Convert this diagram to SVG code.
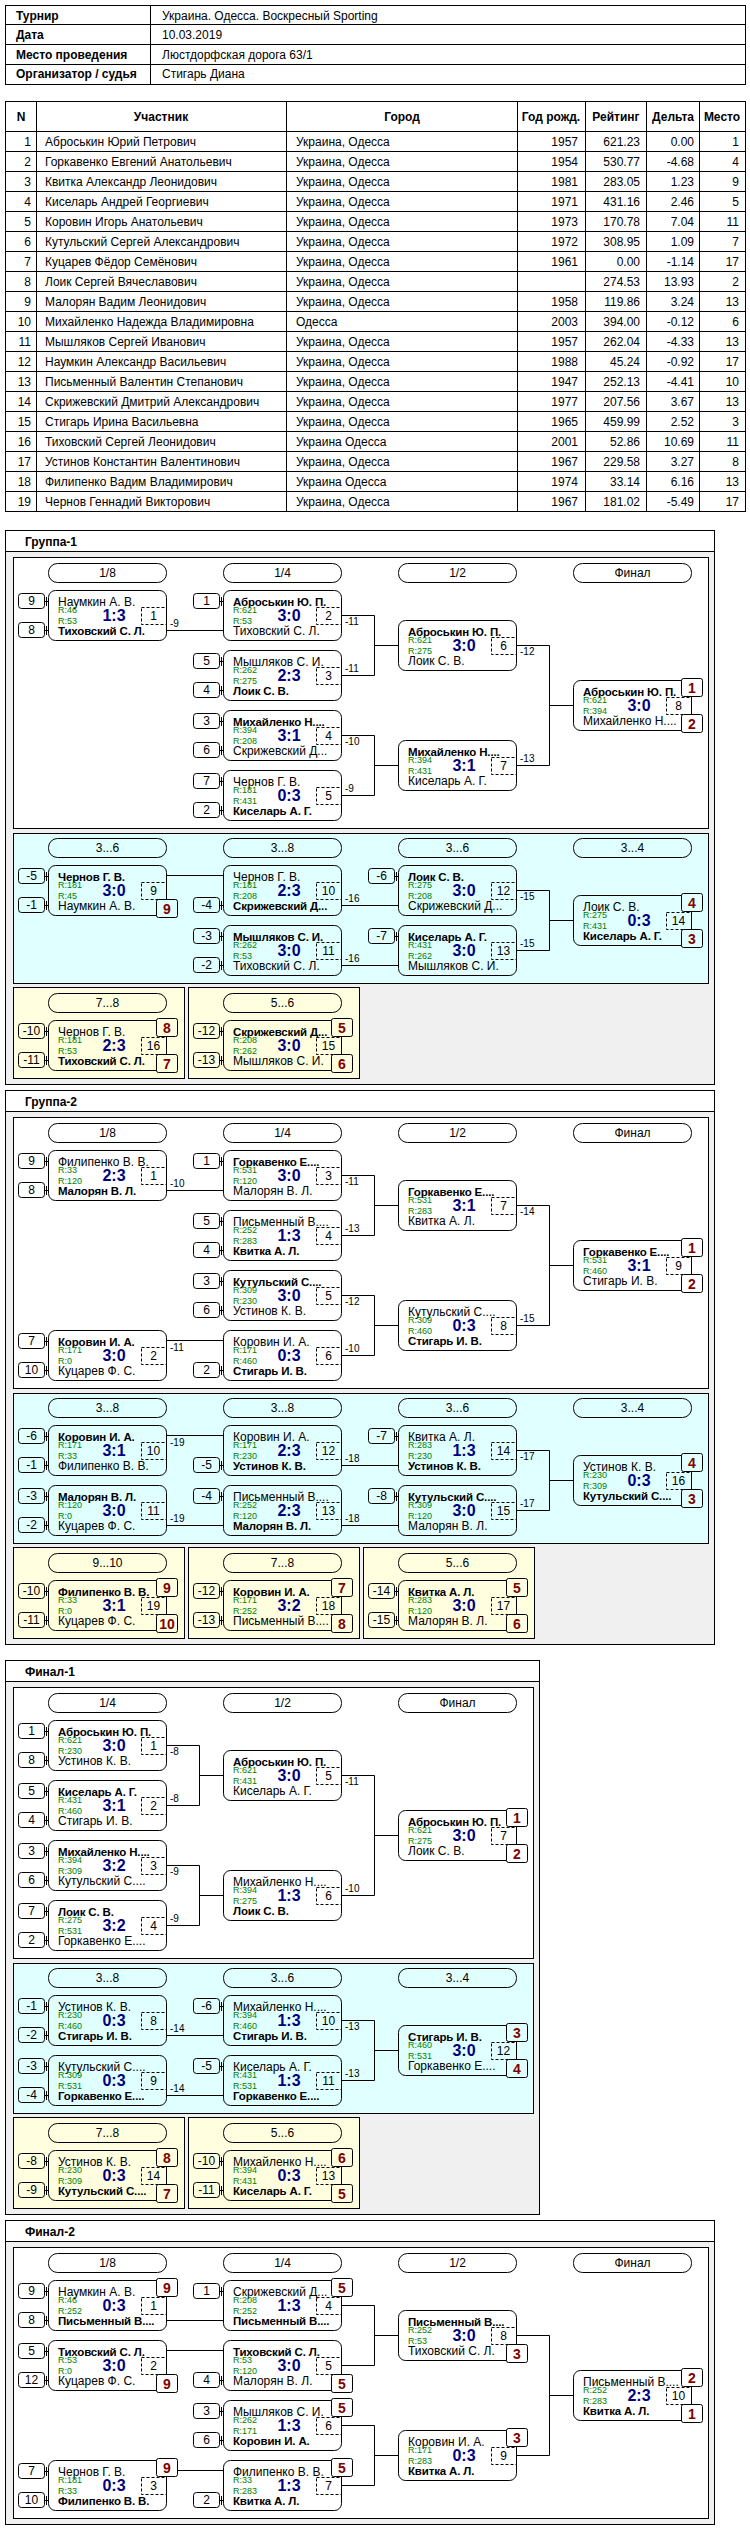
<svg xmlns="http://www.w3.org/2000/svg" width="750" height="2530" viewBox="0 0 750 2530">
<style>
text{font-family:"Liberation Sans",Arial,sans-serif;fill:#000}
.t{font-size:12px}
.tb{font-size:12px;font-weight:bold}
.tc{text-anchor:middle}
.te{text-anchor:end}
.ln{fill:none;stroke:#000;stroke-width:1}
.n{font-size:12px}
.b{font-size:11.5px;font-weight:bold;letter-spacing:-0.15px}
.r{font-size:9px;fill:#008000}
.s{font-size:16px;font-weight:bold;fill:#000080;text-anchor:middle}
.d{font-size:12px;text-anchor:middle}
.l{font-size:10px}
.bd{font-size:14px;font-weight:bold;fill:#800000;text-anchor:middle}
.bw{fill:#fff;stroke:#000}
.bc{fill:#e0ffff;stroke:#000}
.by{fill:#ffffe0;stroke:#000}
.gr{fill:#f0f0f0;stroke:#000}
.wh{fill:#fff;stroke:#000}
.cy{fill:#e0ffff;stroke:#000}
.ye{fill:#ffffe0;stroke:#000}
.ti{font-size:12px;font-weight:bold}
</style>
<defs>
<g id="mb"><rect x="0.5" y="0.5" width="118" height="50" rx="7" fill="none" stroke="#000"/><rect x="93.5" y="17.5" width="25" height="17" fill="none" stroke="#000" stroke-dasharray="3 2"/></g>
<g id="sd"><rect x="0.5" y="0.5" width="26" height="15" rx="3" fill="none" stroke="#000"/><path d="M27,8.5H30M28.5,4V13" fill="none" stroke="#000"/></g>
<rect id="pl" x="0.5" y="0.5" width="118" height="19" rx="9" fill="none" stroke="#000"/>
</defs>

<g id="info-table">
<rect class="wh" x="5.5" y="5.5" width="740" height="79"/>
<path class="ln" d="M5.5,24.5H745.5M5.5,44.5H745.5M5.5,64.5H745.5M150.5,5.5V84.5"/>
<text class="tb"><tspan x="16" y="19.5">Турнир</tspan><tspan x="16" y="39">Дата</tspan><tspan x="16" y="58.5">Место проведения</tspan><tspan x="16" y="78">Организатор / судья</tspan></text>
<text class="t"><tspan x="162" y="19.5">Украина. Одесса. Воскресный Sporting</tspan><tspan x="162" y="39">10.03.2019</tspan><tspan x="162" y="58.5">Люстдорфская дорога 63/1</tspan><tspan x="162" y="78">Стигарь Диана</tspan></text>
</g>

<g id="participants-table">
<rect class="wh" x="5.5" y="101.5" width="740" height="410"/>
<path class="ln" d="M5.5,131.5H745.5M5.5,151.5H745.5M5.5,171.5H745.5M5.5,191.5H745.5M5.5,211.5H745.5M5.5,231.5H745.5M5.5,251.5H745.5M5.5,271.5H745.5M5.5,291.5H745.5M5.5,311.5H745.5M5.5,331.5H745.5M5.5,351.5H745.5M5.5,371.5H745.5M5.5,391.5H745.5M5.5,411.5H745.5M5.5,431.5H745.5M5.5,451.5H745.5M5.5,471.5H745.5M5.5,491.5H745.5M36.5,101.5V511.5M286.5,101.5V511.5M517.5,101.5V511.5M585.5,101.5V511.5M646.5,101.5V511.5M699.5,101.5V511.5"/>
<text class="tb tc"><tspan x="21" y="120.5">N</tspan><tspan x="161" y="120.5">Участник</tspan><tspan x="402" y="120.5">Город</tspan><tspan x="551" y="120.5">Год рожд.</tspan><tspan x="616" y="120.5">Рейтинг</tspan><tspan x="673" y="120.5">Дельта</tspan><tspan x="722" y="120.5">Место</tspan></text>
<text class="t te"><tspan x="31" y="145.5">1</tspan><tspan x="31" y="165.5">2</tspan><tspan x="31" y="185.5">3</tspan><tspan x="31" y="205.5">4</tspan><tspan x="31" y="225.5">5</tspan><tspan x="31" y="245.5">6</tspan><tspan x="31" y="265.5">7</tspan><tspan x="31" y="285.5">8</tspan><tspan x="31" y="305.5">9</tspan><tspan x="31" y="325.5">10</tspan><tspan x="31" y="345.5">11</tspan><tspan x="31" y="365.5">12</tspan><tspan x="31" y="385.5">13</tspan><tspan x="31" y="405.5">14</tspan><tspan x="31" y="425.5">15</tspan><tspan x="31" y="445.5">16</tspan><tspan x="31" y="465.5">17</tspan><tspan x="31" y="485.5">18</tspan><tspan x="31" y="505.5">19</tspan></text>
<text class="t"><tspan x="45" y="145.5">Аброськин Юрий Петрович</tspan><tspan x="45" y="165.5">Горкавенко Евгений Анатольевич</tspan><tspan x="45" y="185.5">Квитка Александр Леонидович</tspan><tspan x="45" y="205.5">Киселарь Андрей Георгиевич</tspan><tspan x="45" y="225.5">Коровин Игорь Анатольевич</tspan><tspan x="45" y="245.5">Кутульский Сергей Александрович</tspan><tspan x="45" y="265.5">Куцарев Фёдор Семёнович</tspan><tspan x="45" y="285.5">Лоик Сергей Вячеславович</tspan><tspan x="45" y="305.5">Малорян Вадим Леонидович</tspan><tspan x="45" y="325.5">Михайленко Надежда Владимировна</tspan><tspan x="45" y="345.5">Мышляков Сергей Иванович</tspan><tspan x="45" y="365.5">Наумкин Александр Васильевич</tspan><tspan x="45" y="385.5">Письменный Валентин Степанович</tspan><tspan x="45" y="405.5">Скрижевский Дмитрий Александрович</tspan><tspan x="45" y="425.5">Стигарь Ирина Васильевна</tspan><tspan x="45" y="445.5">Тиховский Сергей Леонидович</tspan><tspan x="45" y="465.5">Устинов Константин Валентинович</tspan><tspan x="45" y="485.5">Филипенко Вадим Владимирович</tspan><tspan x="45" y="505.5">Чернов Геннадий Викторович</tspan></text>
<text class="t"><tspan x="296" y="145.5">Украина, Одесса</tspan><tspan x="296" y="165.5">Украина, Одесса</tspan><tspan x="296" y="185.5">Украина, Одесса</tspan><tspan x="296" y="205.5">Украина, Одесса</tspan><tspan x="296" y="225.5">Украина, Одесса</tspan><tspan x="296" y="245.5">Украина, Одесса</tspan><tspan x="296" y="265.5">Украина, Одесса</tspan><tspan x="296" y="285.5">Украина, Одесса</tspan><tspan x="296" y="305.5">Украина, Одесса</tspan><tspan x="296" y="325.5">Одесса</tspan><tspan x="296" y="345.5">Украина, Одесса</tspan><tspan x="296" y="365.5">Украина, Одесса</tspan><tspan x="296" y="385.5">Украина, Одесса</tspan><tspan x="296" y="405.5">Украина, Одесса</tspan><tspan x="296" y="425.5">Украина, Одесса</tspan><tspan x="296" y="445.5">Украина Одесса</tspan><tspan x="296" y="465.5">Украина, Одесса</tspan><tspan x="296" y="485.5">Украина Одесса</tspan><tspan x="296" y="505.5">Украина, Одесса</tspan></text>
<text class="t te"><tspan x="578" y="145.5">1957</tspan><tspan x="578" y="165.5">1954</tspan><tspan x="578" y="185.5">1981</tspan><tspan x="578" y="205.5">1971</tspan><tspan x="578" y="225.5">1973</tspan><tspan x="578" y="245.5">1972</tspan><tspan x="578" y="265.5">1961</tspan><tspan x="578" y="305.5">1958</tspan><tspan x="578" y="325.5">2003</tspan><tspan x="578" y="345.5">1957</tspan><tspan x="578" y="365.5">1988</tspan><tspan x="578" y="385.5">1947</tspan><tspan x="578" y="405.5">1977</tspan><tspan x="578" y="425.5">1965</tspan><tspan x="578" y="445.5">2001</tspan><tspan x="578" y="465.5">1967</tspan><tspan x="578" y="485.5">1974</tspan><tspan x="578" y="505.5">1967</tspan></text>
<text class="t te"><tspan x="640" y="145.5">621.23</tspan><tspan x="640" y="165.5">530.77</tspan><tspan x="640" y="185.5">283.05</tspan><tspan x="640" y="205.5">431.16</tspan><tspan x="640" y="225.5">170.78</tspan><tspan x="640" y="245.5">308.95</tspan><tspan x="640" y="265.5">0.00</tspan><tspan x="640" y="285.5">274.53</tspan><tspan x="640" y="305.5">119.86</tspan><tspan x="640" y="325.5">394.00</tspan><tspan x="640" y="345.5">262.04</tspan><tspan x="640" y="365.5">45.24</tspan><tspan x="640" y="385.5">252.13</tspan><tspan x="640" y="405.5">207.56</tspan><tspan x="640" y="425.5">459.99</tspan><tspan x="640" y="445.5">52.86</tspan><tspan x="640" y="465.5">229.58</tspan><tspan x="640" y="485.5">33.14</tspan><tspan x="640" y="505.5">181.02</tspan></text>
<text class="t te"><tspan x="694" y="145.5">0.00</tspan><tspan x="694" y="165.5">-4.68</tspan><tspan x="694" y="185.5">1.23</tspan><tspan x="694" y="205.5">2.46</tspan><tspan x="694" y="225.5">7.04</tspan><tspan x="694" y="245.5">1.09</tspan><tspan x="694" y="265.5">-1.14</tspan><tspan x="694" y="285.5">13.93</tspan><tspan x="694" y="305.5">3.24</tspan><tspan x="694" y="325.5">-0.12</tspan><tspan x="694" y="345.5">-4.33</tspan><tspan x="694" y="365.5">-0.92</tspan><tspan x="694" y="385.5">-4.41</tspan><tspan x="694" y="405.5">3.67</tspan><tspan x="694" y="425.5">2.52</tspan><tspan x="694" y="445.5">10.69</tspan><tspan x="694" y="465.5">3.27</tspan><tspan x="694" y="485.5">6.16</tspan><tspan x="694" y="505.5">-5.49</tspan></text>
<text class="t te"><tspan x="739" y="145.5">1</tspan><tspan x="739" y="165.5">4</tspan><tspan x="739" y="185.5">9</tspan><tspan x="739" y="205.5">5</tspan><tspan x="739" y="225.5">11</tspan><tspan x="739" y="245.5">7</tspan><tspan x="739" y="265.5">17</tspan><tspan x="739" y="285.5">2</tspan><tspan x="739" y="305.5">13</tspan><tspan x="739" y="325.5">6</tspan><tspan x="739" y="345.5">13</tspan><tspan x="739" y="365.5">17</tspan><tspan x="739" y="385.5">10</tspan><tspan x="739" y="405.5">13</tspan><tspan x="739" y="425.5">3</tspan><tspan x="739" y="445.5">11</tspan><tspan x="739" y="465.5">8</tspan><tspan x="739" y="485.5">13</tspan><tspan x="739" y="505.5">17</tspan></text>
</g>

<!-- ===================== GROUP 1 ===================== -->
<g id="group1-frame">
<rect class="gr" x="5.5" y="530.5" width="709" height="554"/>
<rect class="wh" x="5.5" y="530.5" width="709" height="21"/>
<text class="ti" x="25" y="546">Группа-1</text>
<rect class="wh" x="13.5" y="557.5" width="695" height="271"/>
<rect class="cy" x="13.5" y="833.5" width="695" height="150"/>
<rect class="ye" x="13.5" y="987.5" width="171" height="91"/>
<rect class="ye" x="188.5" y="987.5" width="171" height="91"/>
<use href="#pl" x="48" y="563"/><use href="#pl" x="223" y="563"/><use href="#pl" x="398" y="563"/><use href="#pl" x="573" y="563"/>
<use href="#pl" x="48" y="838"/><use href="#pl" x="223" y="838"/><use href="#pl" x="398" y="838"/><use href="#pl" x="573" y="838"/>
<use href="#pl" x="48" y="993"/><use href="#pl" x="223" y="993"/>
<text class="t tc"><tspan x="107.5" y="577">1/8</tspan><tspan x="282.5" y="577">1/4</tspan><tspan x="457.5" y="577">1/2</tspan><tspan x="632.5" y="577">Финал</tspan><tspan x="107.5" y="852">3...6</tspan><tspan x="282.5" y="852">3...8</tspan><tspan x="457.5" y="852">3...6</tspan><tspan x="632.5" y="852">3...4</tspan><tspan x="107.5" y="1007">7...8</tspan><tspan x="282.5" y="1007">5...6</tspan></text>
</g>
<g id="group1-connectors">
<path class="ln" d="M166.5,630.5H223.5M341.5,615.5H374.5V675.5H341.5M374.5,645.5H398.5M341.5,735.5H374.5V795.5H341.5M374.5,765.5H398.5M516.5,645.5H549.5V765.5H516.5M549.5,705.5H573.5M166.5,875.5H223.5M341.5,905.5H398.5M341.5,965.5H398.5M516.5,890.5H549.5V950.5H516.5M549.5,920.5H573.5"/>
<text class="l"><tspan x="170" y="627">-9</tspan><tspan x="345" y="625">-11</tspan><tspan x="345" y="672">-11</tspan><tspan x="345" y="745">-10</tspan><tspan x="345" y="792">-9</tspan><tspan x="520" y="655">-12</tspan><tspan x="520" y="762">-13</tspan><tspan x="345" y="902">-16</tspan><tspan x="345" y="962">-16</tspan><tspan x="520" y="900">-15</tspan><tspan x="520" y="947">-15</tspan></text>
</g>
<g id="g1-m1" transform="translate(48,590)"><use href="#mb"/><use href="#sd" x="-30" y="3"/><text class="d" x="-16.5" y="15">9</text><use href="#sd" x="-30" y="32"/><text class="d" x="-16.5" y="44">8</text><text class="n" x="10" y="16">Наумкин А. В.</text><text class="r" x="10" y="23">R:46</text><text class="s" x="66" y="31">1:3</text><text class="r" x="10" y="34">R:53</text><text class="b" x="10" y="45">Тиховский С. Л.</text><text class="d" x="105.5" y="30">1</text></g>
<g id="g1-m2" transform="translate(223,590)"><use href="#mb"/><use href="#sd" x="-30" y="3"/><text class="d" x="-16.5" y="15">1</text><text class="b" x="10" y="16">Аброськин Ю. П.</text><text class="r" x="10" y="23">R:621</text><text class="s" x="66" y="31">3:0</text><text class="r" x="10" y="34">R:53</text><text class="n" x="10" y="45">Тиховский С. Л.</text><text class="d" x="105.5" y="30">2</text></g>
<g id="g1-m3" transform="translate(223,650)"><use href="#mb"/><use href="#sd" x="-30" y="3"/><text class="d" x="-16.5" y="15">5</text><use href="#sd" x="-30" y="32"/><text class="d" x="-16.5" y="44">4</text><text class="n" x="10" y="16">Мышляков С. И.</text><text class="r" x="10" y="23">R:262</text><text class="s" x="66" y="31">2:3</text><text class="r" x="10" y="34">R:275</text><text class="b" x="10" y="45">Лоик С. В.</text><text class="d" x="105.5" y="30">3</text></g>
<g id="g1-m4" transform="translate(223,710)"><use href="#mb"/><use href="#sd" x="-30" y="3"/><text class="d" x="-16.5" y="15">3</text><use href="#sd" x="-30" y="32"/><text class="d" x="-16.5" y="44">6</text><text class="b" x="10" y="16">Михайленко Н....</text><text class="r" x="10" y="23">R:394</text><text class="s" x="66" y="31">3:1</text><text class="r" x="10" y="34">R:208</text><text class="n" x="10" y="45">Скрижевский Д...</text><text class="d" x="105.5" y="30">4</text></g>
<g id="g1-m5" transform="translate(223,770)"><use href="#mb"/><use href="#sd" x="-30" y="3"/><text class="d" x="-16.5" y="15">7</text><use href="#sd" x="-30" y="32"/><text class="d" x="-16.5" y="44">2</text><text class="n" x="10" y="16">Чернов Г. В.</text><text class="r" x="10" y="23">R:181</text><text class="s" x="66" y="31">0:3</text><text class="r" x="10" y="34">R:431</text><text class="b" x="10" y="45">Киселарь А. Г.</text><text class="d" x="105.5" y="30">5</text></g>
<g id="g1-m6" transform="translate(398,620)"><use href="#mb"/><text class="b" x="10" y="16">Аброськин Ю. П.</text><text class="r" x="10" y="23">R:621</text><text class="s" x="66" y="31">3:0</text><text class="r" x="10" y="34">R:275</text><text class="n" x="10" y="45">Лоик С. В.</text><text class="d" x="105.5" y="30">6</text></g>
<g id="g1-m7" transform="translate(398,740)"><use href="#mb"/><text class="b" x="10" y="16">Михайленко Н....</text><text class="r" x="10" y="23">R:394</text><text class="s" x="66" y="31">3:1</text><text class="r" x="10" y="34">R:431</text><text class="n" x="10" y="45">Киселарь А. Г.</text><text class="d" x="105.5" y="30">7</text></g>
<g id="g1-m8" transform="translate(573,680)"><use href="#mb"/><text class="b" x="10" y="16">Аброськин Ю. П.</text><text class="r" x="10" y="23">R:621</text><text class="s" x="66" y="31">3:0</text><text class="r" x="10" y="34">R:394</text><text class="n" x="10" y="45">Михайленко Н....</text><text class="d" x="105.5" y="30">8</text><rect class="bw" x="108.5" y="-1.5" width="21" height="18" rx="2"/><text class="bd" x="119" y="13">1</text><rect class="bw" x="108.5" y="34.5" width="21" height="18" rx="2"/><text class="bd" x="119" y="49">2</text></g>
<g id="g1-m9" transform="translate(48,865)"><use href="#mb"/><use href="#sd" x="-30" y="3"/><text class="d" x="-16.5" y="15">-5</text><use href="#sd" x="-30" y="32"/><text class="d" x="-16.5" y="44">-1</text><text class="b" x="10" y="16">Чернов Г. В.</text><text class="r" x="10" y="23">R:181</text><text class="s" x="66" y="31">3:0</text><text class="r" x="10" y="34">R:45</text><text class="n" x="10" y="45">Наумкин А. В.</text><text class="d" x="105.5" y="30">9</text><rect class="bc" x="108.5" y="34.5" width="21" height="18" rx="2"/><text class="bd" x="119" y="49">9</text></g>
<g id="g1-m10" transform="translate(223,865)"><use href="#mb"/><use href="#sd" x="-30" y="32"/><text class="d" x="-16.5" y="44">-4</text><text class="n" x="10" y="16">Чернов Г. В.</text><text class="r" x="10" y="23">R:181</text><text class="s" x="66" y="31">2:3</text><text class="r" x="10" y="34">R:208</text><text class="b" x="10" y="45">Скрижевский Д...</text><text class="d" x="105.5" y="30">10</text></g>
<g id="g1-m11" transform="translate(223,925)"><use href="#mb"/><use href="#sd" x="-30" y="3"/><text class="d" x="-16.5" y="15">-3</text><use href="#sd" x="-30" y="32"/><text class="d" x="-16.5" y="44">-2</text><text class="b" x="10" y="16">Мышляков С. И.</text><text class="r" x="10" y="23">R:262</text><text class="s" x="66" y="31">3:0</text><text class="r" x="10" y="34">R:53</text><text class="n" x="10" y="45">Тиховский С. Л.</text><text class="d" x="105.5" y="30">11</text></g>
<g id="g1-m12" transform="translate(398,865)"><use href="#mb"/><use href="#sd" x="-30" y="3"/><text class="d" x="-16.5" y="15">-6</text><text class="b" x="10" y="16">Лоик С. В.</text><text class="r" x="10" y="23">R:275</text><text class="s" x="66" y="31">3:0</text><text class="r" x="10" y="34">R:208</text><text class="n" x="10" y="45">Скрижевский Д...</text><text class="d" x="105.5" y="30">12</text></g>
<g id="g1-m13" transform="translate(398,925)"><use href="#mb"/><use href="#sd" x="-30" y="3"/><text class="d" x="-16.5" y="15">-7</text><text class="b" x="10" y="16">Киселарь А. Г.</text><text class="r" x="10" y="23">R:431</text><text class="s" x="66" y="31">3:0</text><text class="r" x="10" y="34">R:262</text><text class="n" x="10" y="45">Мышляков С. И.</text><text class="d" x="105.5" y="30">13</text></g>
<g id="g1-m14" transform="translate(573,895)"><use href="#mb"/><text class="n" x="10" y="16">Лоик С. В.</text><text class="r" x="10" y="23">R:275</text><text class="s" x="66" y="31">0:3</text><text class="r" x="10" y="34">R:431</text><text class="b" x="10" y="45">Киселарь А. Г.</text><text class="d" x="105.5" y="30">14</text><rect class="bc" x="108.5" y="-1.5" width="21" height="18" rx="2"/><text class="bd" x="119" y="13">4</text><rect class="bc" x="108.5" y="34.5" width="21" height="18" rx="2"/><text class="bd" x="119" y="49">3</text></g>
<g id="g1-m16" transform="translate(48,1020)"><use href="#mb"/><use href="#sd" x="-30" y="3"/><text class="d" x="-16.5" y="15">-10</text><use href="#sd" x="-30" y="32"/><text class="d" x="-16.5" y="44">-11</text><text class="n" x="10" y="16">Чернов Г. В.</text><text class="r" x="10" y="23">R:181</text><text class="s" x="66" y="31">2:3</text><text class="r" x="10" y="34">R:53</text><text class="b" x="10" y="45">Тиховский С. Л.</text><text class="d" x="105.5" y="30">16</text><rect class="by" x="108.5" y="-1.5" width="21" height="18" rx="2"/><text class="bd" x="119" y="13">8</text><rect class="by" x="108.5" y="34.5" width="21" height="18" rx="2"/><text class="bd" x="119" y="49">7</text></g>
<g id="g1-m15" transform="translate(223,1020)"><use href="#mb"/><use href="#sd" x="-30" y="3"/><text class="d" x="-16.5" y="15">-12</text><use href="#sd" x="-30" y="32"/><text class="d" x="-16.5" y="44">-13</text><text class="b" x="10" y="16">Скрижевский Д...</text><text class="r" x="10" y="23">R:208</text><text class="s" x="66" y="31">3:0</text><text class="r" x="10" y="34">R:262</text><text class="n" x="10" y="45">Мышляков С. И.</text><text class="d" x="105.5" y="30">15</text><rect class="by" x="108.5" y="-1.5" width="21" height="18" rx="2"/><text class="bd" x="119" y="13">5</text><rect class="by" x="108.5" y="34.5" width="21" height="18" rx="2"/><text class="bd" x="119" y="49">6</text></g>

<!-- ===================== GROUP 2 ===================== -->
<g id="group2-frame">
<rect class="gr" x="5.5" y="1090.5" width="709" height="554"/>
<rect class="wh" x="5.5" y="1090.5" width="709" height="21"/>
<text class="ti" x="25" y="1106">Группа-2</text>
<rect class="wh" x="13.5" y="1117.5" width="695" height="271"/>
<rect class="cy" x="13.5" y="1393.5" width="695" height="150"/>
<rect class="ye" x="13.5" y="1547.5" width="171" height="91"/>
<rect class="ye" x="188.5" y="1547.5" width="171" height="91"/>
<rect class="ye" x="363.5" y="1547.5" width="171" height="91"/>
<use href="#pl" x="48" y="1123"/><use href="#pl" x="223" y="1123"/><use href="#pl" x="398" y="1123"/><use href="#pl" x="573" y="1123"/>
<use href="#pl" x="48" y="1398"/><use href="#pl" x="223" y="1398"/><use href="#pl" x="398" y="1398"/><use href="#pl" x="573" y="1398"/>
<use href="#pl" x="48" y="1553"/><use href="#pl" x="223" y="1553"/><use href="#pl" x="398" y="1553"/>
<text class="t tc"><tspan x="107.5" y="1137">1/8</tspan><tspan x="282.5" y="1137">1/4</tspan><tspan x="457.5" y="1137">1/2</tspan><tspan x="632.5" y="1137">Финал</tspan><tspan x="107.5" y="1412">3...8</tspan><tspan x="282.5" y="1412">3...8</tspan><tspan x="457.5" y="1412">3...6</tspan><tspan x="632.5" y="1412">3...4</tspan><tspan x="107.5" y="1567">9...10</tspan><tspan x="282.5" y="1567">7...8</tspan><tspan x="457.5" y="1567">5...6</tspan></text>
</g>
<g id="group2-connectors">
<path class="ln" d="M166.5,1190.5H223.5M166.5,1340.5H223.5M341.5,1175.5H374.5V1235.5H341.5M374.5,1205.5H398.5M341.5,1295.5H374.5V1355.5H341.5M374.5,1325.5H398.5M516.5,1205.5H549.5V1325.5H516.5M549.5,1265.5H573.5M166.5,1435.5H223.5M166.5,1525.5H223.5M341.5,1465.5H398.5M341.5,1525.5H398.5M516.5,1450.5H549.5V1510.5H516.5M549.5,1480.5H573.5"/>
<text class="l"><tspan x="170" y="1187">-10</tspan><tspan x="170" y="1351">-11</tspan><tspan x="345" y="1185">-11</tspan><tspan x="345" y="1232">-13</tspan><tspan x="345" y="1305">-12</tspan><tspan x="345" y="1352">-10</tspan><tspan x="520" y="1215">-14</tspan><tspan x="520" y="1322">-15</tspan><tspan x="170" y="1446">-19</tspan><tspan x="170" y="1522">-19</tspan><tspan x="345" y="1462">-18</tspan><tspan x="345" y="1522">-18</tspan><tspan x="520" y="1460">-17</tspan><tspan x="520" y="1507">-17</tspan></text>
</g>
<g id="g2-m1" transform="translate(48,1150)"><use href="#mb"/><use href="#sd" x="-30" y="3"/><text class="d" x="-16.5" y="15">9</text><use href="#sd" x="-30" y="32"/><text class="d" x="-16.5" y="44">8</text><text class="n" x="10" y="16">Филипенко В. В.</text><text class="r" x="10" y="23">R:33</text><text class="s" x="66" y="31">2:3</text><text class="r" x="10" y="34">R:120</text><text class="b" x="10" y="45">Малорян В. Л.</text><text class="d" x="105.5" y="30">1</text></g>
<g id="g2-m2" transform="translate(48,1330)"><use href="#mb"/><use href="#sd" x="-30" y="3"/><text class="d" x="-16.5" y="15">7</text><use href="#sd" x="-30" y="32"/><text class="d" x="-16.5" y="44">10</text><text class="b" x="10" y="16">Коровин И. А.</text><text class="r" x="10" y="23">R:171</text><text class="s" x="66" y="31">3:0</text><text class="r" x="10" y="34">R:0</text><text class="n" x="10" y="45">Куцарев Ф. С.</text><text class="d" x="105.5" y="30">2</text></g>
<g id="g2-m3" transform="translate(223,1150)"><use href="#mb"/><use href="#sd" x="-30" y="3"/><text class="d" x="-16.5" y="15">1</text><text class="b" x="10" y="16">Горкавенко Е....</text><text class="r" x="10" y="23">R:531</text><text class="s" x="66" y="31">3:0</text><text class="r" x="10" y="34">R:120</text><text class="n" x="10" y="45">Малорян В. Л.</text><text class="d" x="105.5" y="30">3</text></g>
<g id="g2-m4" transform="translate(223,1210)"><use href="#mb"/><use href="#sd" x="-30" y="3"/><text class="d" x="-16.5" y="15">5</text><use href="#sd" x="-30" y="32"/><text class="d" x="-16.5" y="44">4</text><text class="n" x="10" y="16">Письменный В....</text><text class="r" x="10" y="23">R:252</text><text class="s" x="66" y="31">1:3</text><text class="r" x="10" y="34">R:283</text><text class="b" x="10" y="45">Квитка А. Л.</text><text class="d" x="105.5" y="30">4</text></g>
<g id="g2-m5" transform="translate(223,1270)"><use href="#mb"/><use href="#sd" x="-30" y="3"/><text class="d" x="-16.5" y="15">3</text><use href="#sd" x="-30" y="32"/><text class="d" x="-16.5" y="44">6</text><text class="b" x="10" y="16">Кутульский С....</text><text class="r" x="10" y="23">R:309</text><text class="s" x="66" y="31">3:0</text><text class="r" x="10" y="34">R:230</text><text class="n" x="10" y="45">Устинов К. В.</text><text class="d" x="105.5" y="30">5</text></g>
<g id="g2-m6" transform="translate(223,1330)"><use href="#mb"/><use href="#sd" x="-30" y="32"/><text class="d" x="-16.5" y="44">2</text><text class="n" x="10" y="16">Коровин И. А.</text><text class="r" x="10" y="23">R:171</text><text class="s" x="66" y="31">0:3</text><text class="r" x="10" y="34">R:460</text><text class="b" x="10" y="45">Стигарь И. В.</text><text class="d" x="105.5" y="30">6</text></g>
<g id="g2-m7" transform="translate(398,1180)"><use href="#mb"/><text class="b" x="10" y="16">Горкавенко Е....</text><text class="r" x="10" y="23">R:531</text><text class="s" x="66" y="31">3:1</text><text class="r" x="10" y="34">R:283</text><text class="n" x="10" y="45">Квитка А. Л.</text><text class="d" x="105.5" y="30">7</text></g>
<g id="g2-m8" transform="translate(398,1300)"><use href="#mb"/><text class="n" x="10" y="16">Кутульский С....</text><text class="r" x="10" y="23">R:309</text><text class="s" x="66" y="31">0:3</text><text class="r" x="10" y="34">R:460</text><text class="b" x="10" y="45">Стигарь И. В.</text><text class="d" x="105.5" y="30">8</text></g>
<g id="g2-m9" transform="translate(573,1240)"><use href="#mb"/><text class="b" x="10" y="16">Горкавенко Е....</text><text class="r" x="10" y="23">R:531</text><text class="s" x="66" y="31">3:1</text><text class="r" x="10" y="34">R:460</text><text class="n" x="10" y="45">Стигарь И. В.</text><text class="d" x="105.5" y="30">9</text><rect class="bw" x="108.5" y="-1.5" width="21" height="18" rx="2"/><text class="bd" x="119" y="13">1</text><rect class="bw" x="108.5" y="34.5" width="21" height="18" rx="2"/><text class="bd" x="119" y="49">2</text></g>
<g id="g2-m10" transform="translate(48,1425)"><use href="#mb"/><use href="#sd" x="-30" y="3"/><text class="d" x="-16.5" y="15">-6</text><use href="#sd" x="-30" y="32"/><text class="d" x="-16.5" y="44">-1</text><text class="b" x="10" y="16">Коровин И. А.</text><text class="r" x="10" y="23">R:171</text><text class="s" x="66" y="31">3:1</text><text class="r" x="10" y="34">R:33</text><text class="n" x="10" y="45">Филипенко В. В.</text><text class="d" x="105.5" y="30">10</text></g>
<g id="g2-m11" transform="translate(48,1485)"><use href="#mb"/><use href="#sd" x="-30" y="3"/><text class="d" x="-16.5" y="15">-3</text><use href="#sd" x="-30" y="32"/><text class="d" x="-16.5" y="44">-2</text><text class="b" x="10" y="16">Малорян В. Л.</text><text class="r" x="10" y="23">R:120</text><text class="s" x="66" y="31">3:0</text><text class="r" x="10" y="34">R:0</text><text class="n" x="10" y="45">Куцарев Ф. С.</text><text class="d" x="105.5" y="30">11</text></g>
<g id="g2-m12" transform="translate(223,1425)"><use href="#mb"/><use href="#sd" x="-30" y="32"/><text class="d" x="-16.5" y="44">-5</text><text class="n" x="10" y="16">Коровин И. А.</text><text class="r" x="10" y="23">R:171</text><text class="s" x="66" y="31">2:3</text><text class="r" x="10" y="34">R:230</text><text class="b" x="10" y="45">Устинов К. В.</text><text class="d" x="105.5" y="30">12</text></g>
<g id="g2-m13" transform="translate(223,1485)"><use href="#mb"/><use href="#sd" x="-30" y="3"/><text class="d" x="-16.5" y="15">-4</text><text class="n" x="10" y="16">Письменный В....</text><text class="r" x="10" y="23">R:252</text><text class="s" x="66" y="31">2:3</text><text class="r" x="10" y="34">R:120</text><text class="b" x="10" y="45">Малорян В. Л.</text><text class="d" x="105.5" y="30">13</text></g>
<g id="g2-m14" transform="translate(398,1425)"><use href="#mb"/><use href="#sd" x="-30" y="3"/><text class="d" x="-16.5" y="15">-7</text><text class="n" x="10" y="16">Квитка А. Л.</text><text class="r" x="10" y="23">R:283</text><text class="s" x="66" y="31">1:3</text><text class="r" x="10" y="34">R:230</text><text class="b" x="10" y="45">Устинов К. В.</text><text class="d" x="105.5" y="30">14</text></g>
<g id="g2-m15" transform="translate(398,1485)"><use href="#mb"/><use href="#sd" x="-30" y="3"/><text class="d" x="-16.5" y="15">-8</text><text class="b" x="10" y="16">Кутульский С....</text><text class="r" x="10" y="23">R:309</text><text class="s" x="66" y="31">3:0</text><text class="r" x="10" y="34">R:120</text><text class="n" x="10" y="45">Малорян В. Л.</text><text class="d" x="105.5" y="30">15</text></g>
<g id="g2-m16" transform="translate(573,1455)"><use href="#mb"/><text class="n" x="10" y="16">Устинов К. В.</text><text class="r" x="10" y="23">R:230</text><text class="s" x="66" y="31">0:3</text><text class="r" x="10" y="34">R:309</text><text class="b" x="10" y="45">Кутульский С....</text><text class="d" x="105.5" y="30">16</text><rect class="bc" x="108.5" y="-1.5" width="21" height="18" rx="2"/><text class="bd" x="119" y="13">4</text><rect class="bc" x="108.5" y="34.5" width="21" height="18" rx="2"/><text class="bd" x="119" y="49">3</text></g>
<g id="g2-m19" transform="translate(48,1580)"><use href="#mb"/><use href="#sd" x="-30" y="3"/><text class="d" x="-16.5" y="15">-10</text><use href="#sd" x="-30" y="32"/><text class="d" x="-16.5" y="44">-11</text><text class="b" x="10" y="16">Филипенко В. В.</text><text class="r" x="10" y="23">R:33</text><text class="s" x="66" y="31">3:1</text><text class="r" x="10" y="34">R:0</text><text class="n" x="10" y="45">Куцарев Ф. С.</text><text class="d" x="105.5" y="30">19</text><rect class="by" x="108.5" y="-1.5" width="21" height="18" rx="2"/><text class="bd" x="119" y="13">9</text><rect class="by" x="108.5" y="34.5" width="21" height="18" rx="2"/><text class="bd" x="119" y="49">10</text></g>
<g id="g2-m18" transform="translate(223,1580)"><use href="#mb"/><use href="#sd" x="-30" y="3"/><text class="d" x="-16.5" y="15">-12</text><use href="#sd" x="-30" y="32"/><text class="d" x="-16.5" y="44">-13</text><text class="b" x="10" y="16">Коровин И. А.</text><text class="r" x="10" y="23">R:171</text><text class="s" x="66" y="31">3:2</text><text class="r" x="10" y="34">R:252</text><text class="n" x="10" y="45">Письменный В....</text><text class="d" x="105.5" y="30">18</text><rect class="by" x="108.5" y="-1.5" width="21" height="18" rx="2"/><text class="bd" x="119" y="13">7</text><rect class="by" x="108.5" y="34.5" width="21" height="18" rx="2"/><text class="bd" x="119" y="49">8</text></g>
<g id="g2-m17" transform="translate(398,1580)"><use href="#mb"/><use href="#sd" x="-30" y="3"/><text class="d" x="-16.5" y="15">-14</text><use href="#sd" x="-30" y="32"/><text class="d" x="-16.5" y="44">-15</text><text class="b" x="10" y="16">Квитка А. Л.</text><text class="r" x="10" y="23">R:283</text><text class="s" x="66" y="31">3:0</text><text class="r" x="10" y="34">R:120</text><text class="n" x="10" y="45">Малорян В. Л.</text><text class="d" x="105.5" y="30">17</text><rect class="by" x="108.5" y="-1.5" width="21" height="18" rx="2"/><text class="bd" x="119" y="13">5</text><rect class="by" x="108.5" y="34.5" width="21" height="18" rx="2"/><text class="bd" x="119" y="49">6</text></g>

<!-- ===================== FINAL 1 ===================== -->
<g id="final1-frame">
<rect class="gr" x="5.5" y="1660.5" width="534" height="554"/>
<rect class="wh" x="5.5" y="1660.5" width="534" height="21"/>
<text class="ti" x="25" y="1676">Финал-1</text>
<rect class="wh" x="13.5" y="1687.5" width="520" height="271"/>
<rect class="cy" x="13.5" y="1963.5" width="520" height="150"/>
<rect class="ye" x="13.5" y="2117.5" width="171" height="91"/>
<rect class="ye" x="188.5" y="2117.5" width="171" height="91"/>
<use href="#pl" x="48" y="1693"/><use href="#pl" x="223" y="1693"/><use href="#pl" x="398" y="1693"/>
<use href="#pl" x="48" y="1968"/><use href="#pl" x="223" y="1968"/><use href="#pl" x="398" y="1968"/>
<use href="#pl" x="48" y="2123"/><use href="#pl" x="223" y="2123"/>
<text class="t tc"><tspan x="107.5" y="1707">1/4</tspan><tspan x="282.5" y="1707">1/2</tspan><tspan x="457.5" y="1707">Финал</tspan><tspan x="107.5" y="1982">3...8</tspan><tspan x="282.5" y="1982">3...6</tspan><tspan x="457.5" y="1982">3...4</tspan><tspan x="107.5" y="2137">7...8</tspan><tspan x="282.5" y="2137">5...6</tspan></text>
</g>
<g id="final1-connectors">
<path class="ln" d="M166.5,1745.5H199.5V1805.5H166.5M199.5,1775.5H223.5M166.5,1865.5H199.5V1925.5H166.5M199.5,1895.5H223.5M341.5,1775.5H374.5V1895.5H341.5M374.5,1835.5H398.5M166.5,2035.5H223.5M166.5,2095.5H223.5M341.5,2020.5H374.5V2080.5H341.5M374.5,2050.5H398.5"/>
<text class="l"><tspan x="170" y="1755">-8</tspan><tspan x="170" y="1802">-8</tspan><tspan x="170" y="1875">-9</tspan><tspan x="170" y="1922">-9</tspan><tspan x="345" y="1785">-11</tspan><tspan x="345" y="1892">-10</tspan><tspan x="170" y="2032">-14</tspan><tspan x="170" y="2092">-14</tspan><tspan x="345" y="2030">-13</tspan><tspan x="345" y="2077">-13</tspan></text>
</g>
<g id="f1-m1" transform="translate(48,1720)"><use href="#mb"/><use href="#sd" x="-30" y="3"/><text class="d" x="-16.5" y="15">1</text><use href="#sd" x="-30" y="32"/><text class="d" x="-16.5" y="44">8</text><text class="b" x="10" y="16">Аброськин Ю. П.</text><text class="r" x="10" y="23">R:621</text><text class="s" x="66" y="31">3:0</text><text class="r" x="10" y="34">R:230</text><text class="n" x="10" y="45">Устинов К. В.</text><text class="d" x="105.5" y="30">1</text></g>
<g id="f1-m2" transform="translate(48,1780)"><use href="#mb"/><use href="#sd" x="-30" y="3"/><text class="d" x="-16.5" y="15">5</text><use href="#sd" x="-30" y="32"/><text class="d" x="-16.5" y="44">4</text><text class="b" x="10" y="16">Киселарь А. Г.</text><text class="r" x="10" y="23">R:431</text><text class="s" x="66" y="31">3:1</text><text class="r" x="10" y="34">R:460</text><text class="n" x="10" y="45">Стигарь И. В.</text><text class="d" x="105.5" y="30">2</text></g>
<g id="f1-m3" transform="translate(48,1840)"><use href="#mb"/><use href="#sd" x="-30" y="3"/><text class="d" x="-16.5" y="15">3</text><use href="#sd" x="-30" y="32"/><text class="d" x="-16.5" y="44">6</text><text class="b" x="10" y="16">Михайленко Н....</text><text class="r" x="10" y="23">R:394</text><text class="s" x="66" y="31">3:2</text><text class="r" x="10" y="34">R:309</text><text class="n" x="10" y="45">Кутульский С....</text><text class="d" x="105.5" y="30">3</text></g>
<g id="f1-m4" transform="translate(48,1900)"><use href="#mb"/><use href="#sd" x="-30" y="3"/><text class="d" x="-16.5" y="15">7</text><use href="#sd" x="-30" y="32"/><text class="d" x="-16.5" y="44">2</text><text class="b" x="10" y="16">Лоик С. В.</text><text class="r" x="10" y="23">R:275</text><text class="s" x="66" y="31">3:2</text><text class="r" x="10" y="34">R:531</text><text class="n" x="10" y="45">Горкавенко Е....</text><text class="d" x="105.5" y="30">4</text></g>
<g id="f1-m5" transform="translate(223,1750)"><use href="#mb"/><text class="b" x="10" y="16">Аброськин Ю. П.</text><text class="r" x="10" y="23">R:621</text><text class="s" x="66" y="31">3:0</text><text class="r" x="10" y="34">R:431</text><text class="n" x="10" y="45">Киселарь А. Г.</text><text class="d" x="105.5" y="30">5</text></g>
<g id="f1-m6" transform="translate(223,1870)"><use href="#mb"/><text class="n" x="10" y="16">Михайленко Н....</text><text class="r" x="10" y="23">R:394</text><text class="s" x="66" y="31">1:3</text><text class="r" x="10" y="34">R:275</text><text class="b" x="10" y="45">Лоик С. В.</text><text class="d" x="105.5" y="30">6</text></g>
<g id="f1-m7" transform="translate(398,1810)"><use href="#mb"/><text class="b" x="10" y="16">Аброськин Ю. П.</text><text class="r" x="10" y="23">R:621</text><text class="s" x="66" y="31">3:0</text><text class="r" x="10" y="34">R:275</text><text class="n" x="10" y="45">Лоик С. В.</text><text class="d" x="105.5" y="30">7</text><rect class="bw" x="108.5" y="-1.5" width="21" height="18" rx="2"/><text class="bd" x="119" y="13">1</text><rect class="bw" x="108.5" y="34.5" width="21" height="18" rx="2"/><text class="bd" x="119" y="49">2</text></g>
<g id="f1-m8" transform="translate(48,1995)"><use href="#mb"/><use href="#sd" x="-30" y="3"/><text class="d" x="-16.5" y="15">-1</text><use href="#sd" x="-30" y="32"/><text class="d" x="-16.5" y="44">-2</text><text class="n" x="10" y="16">Устинов К. В.</text><text class="r" x="10" y="23">R:230</text><text class="s" x="66" y="31">0:3</text><text class="r" x="10" y="34">R:460</text><text class="b" x="10" y="45">Стигарь И. В.</text><text class="d" x="105.5" y="30">8</text></g>
<g id="f1-m9" transform="translate(48,2055)"><use href="#mb"/><use href="#sd" x="-30" y="3"/><text class="d" x="-16.5" y="15">-3</text><use href="#sd" x="-30" y="32"/><text class="d" x="-16.5" y="44">-4</text><text class="n" x="10" y="16">Кутульский С....</text><text class="r" x="10" y="23">R:309</text><text class="s" x="66" y="31">0:3</text><text class="r" x="10" y="34">R:531</text><text class="b" x="10" y="45">Горкавенко Е....</text><text class="d" x="105.5" y="30">9</text></g>
<g id="f1-m10" transform="translate(223,1995)"><use href="#mb"/><use href="#sd" x="-30" y="3"/><text class="d" x="-16.5" y="15">-6</text><text class="n" x="10" y="16">Михайленко Н....</text><text class="r" x="10" y="23">R:394</text><text class="s" x="66" y="31">1:3</text><text class="r" x="10" y="34">R:460</text><text class="b" x="10" y="45">Стигарь И. В.</text><text class="d" x="105.5" y="30">10</text></g>
<g id="f1-m11" transform="translate(223,2055)"><use href="#mb"/><use href="#sd" x="-30" y="3"/><text class="d" x="-16.5" y="15">-5</text><text class="n" x="10" y="16">Киселарь А. Г.</text><text class="r" x="10" y="23">R:431</text><text class="s" x="66" y="31">1:3</text><text class="r" x="10" y="34">R:531</text><text class="b" x="10" y="45">Горкавенко Е....</text><text class="d" x="105.5" y="30">11</text></g>
<g id="f1-m12" transform="translate(398,2025)"><use href="#mb"/><text class="b" x="10" y="16">Стигарь И. В.</text><text class="r" x="10" y="23">R:460</text><text class="s" x="66" y="31">3:0</text><text class="r" x="10" y="34">R:531</text><text class="n" x="10" y="45">Горкавенко Е....</text><text class="d" x="105.5" y="30">12</text><rect class="bc" x="108.5" y="-1.5" width="21" height="18" rx="2"/><text class="bd" x="119" y="13">3</text><rect class="bc" x="108.5" y="34.5" width="21" height="18" rx="2"/><text class="bd" x="119" y="49">4</text></g>
<g id="f1-m14" transform="translate(48,2150)"><use href="#mb"/><use href="#sd" x="-30" y="3"/><text class="d" x="-16.5" y="15">-8</text><use href="#sd" x="-30" y="32"/><text class="d" x="-16.5" y="44">-9</text><text class="n" x="10" y="16">Устинов К. В.</text><text class="r" x="10" y="23">R:230</text><text class="s" x="66" y="31">0:3</text><text class="r" x="10" y="34">R:309</text><text class="b" x="10" y="45">Кутульский С....</text><text class="d" x="105.5" y="30">14</text><rect class="by" x="108.5" y="-1.5" width="21" height="18" rx="2"/><text class="bd" x="119" y="13">8</text><rect class="by" x="108.5" y="34.5" width="21" height="18" rx="2"/><text class="bd" x="119" y="49">7</text></g>
<g id="f1-m13" transform="translate(223,2150)"><use href="#mb"/><use href="#sd" x="-30" y="3"/><text class="d" x="-16.5" y="15">-10</text><use href="#sd" x="-30" y="32"/><text class="d" x="-16.5" y="44">-11</text><text class="n" x="10" y="16">Михайленко Н....</text><text class="r" x="10" y="23">R:394</text><text class="s" x="66" y="31">0:3</text><text class="r" x="10" y="34">R:431</text><text class="b" x="10" y="45">Киселарь А. Г.</text><text class="d" x="105.5" y="30">13</text><rect class="by" x="108.5" y="-1.5" width="21" height="18" rx="2"/><text class="bd" x="119" y="13">6</text><rect class="by" x="108.5" y="34.5" width="21" height="18" rx="2"/><text class="bd" x="119" y="49">5</text></g>

<!-- ===================== FINAL 2 ===================== -->
<g id="final2-frame">
<rect class="gr" x="5.5" y="2220.5" width="709" height="304"/>
<rect class="wh" x="5.5" y="2220.5" width="709" height="21"/>
<text class="ti" x="25" y="2236">Финал-2</text>
<rect class="wh" x="13.5" y="2247.5" width="695" height="271"/>
<use href="#pl" x="48" y="2253"/><use href="#pl" x="223" y="2253"/><use href="#pl" x="398" y="2253"/><use href="#pl" x="573" y="2253"/>
<text class="t tc"><tspan x="107.5" y="2267">1/8</tspan><tspan x="282.5" y="2267">1/4</tspan><tspan x="457.5" y="2267">1/2</tspan><tspan x="632.5" y="2267">Финал</tspan></text>
</g>
<g id="final2-connectors">
<path class="ln" d="M166.5,2320.5H223.5M166.5,2350.5H223.5M166.5,2470.5H223.5M341.5,2305.5H374.5V2365.5H341.5M374.5,2335.5H398.5M341.5,2425.5H374.5V2485.5H341.5M374.5,2455.5H398.5M516.5,2335.5H549.5V2455.5H516.5M549.5,2395.5H573.5"/>
</g>
<g id="f2-m1" transform="translate(48,2280)"><use href="#mb"/><use href="#sd" x="-30" y="3"/><text class="d" x="-16.5" y="15">9</text><use href="#sd" x="-30" y="32"/><text class="d" x="-16.5" y="44">8</text><text class="n" x="10" y="16">Наумкин А. В.</text><text class="r" x="10" y="23">R:46</text><text class="s" x="66" y="31">0:3</text><text class="r" x="10" y="34">R:252</text><text class="b" x="10" y="45">Письменный В....</text><text class="d" x="105.5" y="30">1</text><rect class="bw" x="108.5" y="-1.5" width="21" height="18" rx="2"/><text class="bd" x="119" y="13">9</text></g>
<g id="f2-m2" transform="translate(48,2340)"><use href="#mb"/><use href="#sd" x="-30" y="3"/><text class="d" x="-16.5" y="15">5</text><use href="#sd" x="-30" y="32"/><text class="d" x="-16.5" y="44">12</text><text class="b" x="10" y="16">Тиховский С. Л.</text><text class="r" x="10" y="23">R:53</text><text class="s" x="66" y="31">3:0</text><text class="r" x="10" y="34">R:0</text><text class="n" x="10" y="45">Куцарев Ф. С.</text><text class="d" x="105.5" y="30">2</text><rect class="bw" x="108.5" y="34.5" width="21" height="18" rx="2"/><text class="bd" x="119" y="49">9</text></g>
<g id="f2-m3" transform="translate(48,2460)"><use href="#mb"/><use href="#sd" x="-30" y="3"/><text class="d" x="-16.5" y="15">7</text><use href="#sd" x="-30" y="32"/><text class="d" x="-16.5" y="44">10</text><text class="n" x="10" y="16">Чернов Г. В.</text><text class="r" x="10" y="23">R:181</text><text class="s" x="66" y="31">0:3</text><text class="r" x="10" y="34">R:33</text><text class="b" x="10" y="45">Филипенко В. В.</text><text class="d" x="105.5" y="30">3</text><rect class="bw" x="108.5" y="-1.5" width="21" height="18" rx="2"/><text class="bd" x="119" y="13">9</text></g>
<g id="f2-m4" transform="translate(223,2280)"><use href="#mb"/><use href="#sd" x="-30" y="3"/><text class="d" x="-16.5" y="15">1</text><text class="n" x="10" y="16">Скрижевский Д...</text><text class="r" x="10" y="23">R:208</text><text class="s" x="66" y="31">1:3</text><text class="r" x="10" y="34">R:252</text><text class="b" x="10" y="45">Письменный В....</text><text class="d" x="105.5" y="30">4</text><rect class="bw" x="108.5" y="-1.5" width="21" height="18" rx="2"/><text class="bd" x="119" y="13">5</text></g>
<g id="f2-m5" transform="translate(223,2340)"><use href="#mb"/><use href="#sd" x="-30" y="32"/><text class="d" x="-16.5" y="44">4</text><text class="b" x="10" y="16">Тиховский С. Л.</text><text class="r" x="10" y="23">R:53</text><text class="s" x="66" y="31">3:0</text><text class="r" x="10" y="34">R:120</text><text class="n" x="10" y="45">Малорян В. Л.</text><text class="d" x="105.5" y="30">5</text><rect class="bw" x="108.5" y="34.5" width="21" height="18" rx="2"/><text class="bd" x="119" y="49">5</text></g>
<g id="f2-m6" transform="translate(223,2400)"><use href="#mb"/><use href="#sd" x="-30" y="3"/><text class="d" x="-16.5" y="15">3</text><use href="#sd" x="-30" y="32"/><text class="d" x="-16.5" y="44">6</text><text class="n" x="10" y="16">Мышляков С. И.</text><text class="r" x="10" y="23">R:262</text><text class="s" x="66" y="31">1:3</text><text class="r" x="10" y="34">R:171</text><text class="b" x="10" y="45">Коровин И. А.</text><text class="d" x="105.5" y="30">6</text><rect class="bw" x="108.5" y="-1.5" width="21" height="18" rx="2"/><text class="bd" x="119" y="13">5</text></g>
<g id="f2-m7" transform="translate(223,2460)"><use href="#mb"/><use href="#sd" x="-30" y="32"/><text class="d" x="-16.5" y="44">2</text><text class="n" x="10" y="16">Филипенко В. В.</text><text class="r" x="10" y="23">R:33</text><text class="s" x="66" y="31">1:3</text><text class="r" x="10" y="34">R:283</text><text class="b" x="10" y="45">Квитка А. Л.</text><text class="d" x="105.5" y="30">7</text><rect class="bw" x="108.5" y="-1.5" width="21" height="18" rx="2"/><text class="bd" x="119" y="13">5</text></g>
<g id="f2-m8" transform="translate(398,2310)"><use href="#mb"/><text class="b" x="10" y="16">Письменный В....</text><text class="r" x="10" y="23">R:252</text><text class="s" x="66" y="31">3:0</text><text class="r" x="10" y="34">R:53</text><text class="n" x="10" y="45">Тиховский С. Л.</text><text class="d" x="105.5" y="30">8</text><rect class="bw" x="108.5" y="34.5" width="21" height="18" rx="2"/><text class="bd" x="119" y="49">3</text></g>
<g id="f2-m9" transform="translate(398,2430)"><use href="#mb"/><text class="n" x="10" y="16">Коровин И. А.</text><text class="r" x="10" y="23">R:171</text><text class="s" x="66" y="31">0:3</text><text class="r" x="10" y="34">R:283</text><text class="b" x="10" y="45">Квитка А. Л.</text><text class="d" x="105.5" y="30">9</text><rect class="bw" x="108.5" y="-1.5" width="21" height="18" rx="2"/><text class="bd" x="119" y="13">3</text></g>
<g id="f2-m10" transform="translate(573,2370)"><use href="#mb"/><text class="n" x="10" y="16">Письменный В....</text><text class="r" x="10" y="23">R:252</text><text class="s" x="66" y="31">2:3</text><text class="r" x="10" y="34">R:283</text><text class="b" x="10" y="45">Квитка А. Л.</text><text class="d" x="105.5" y="30">10</text><rect class="bw" x="108.5" y="-1.5" width="21" height="18" rx="2"/><text class="bd" x="119" y="13">2</text><rect class="bw" x="108.5" y="34.5" width="21" height="18" rx="2"/><text class="bd" x="119" y="49">1</text></g>
</svg>
